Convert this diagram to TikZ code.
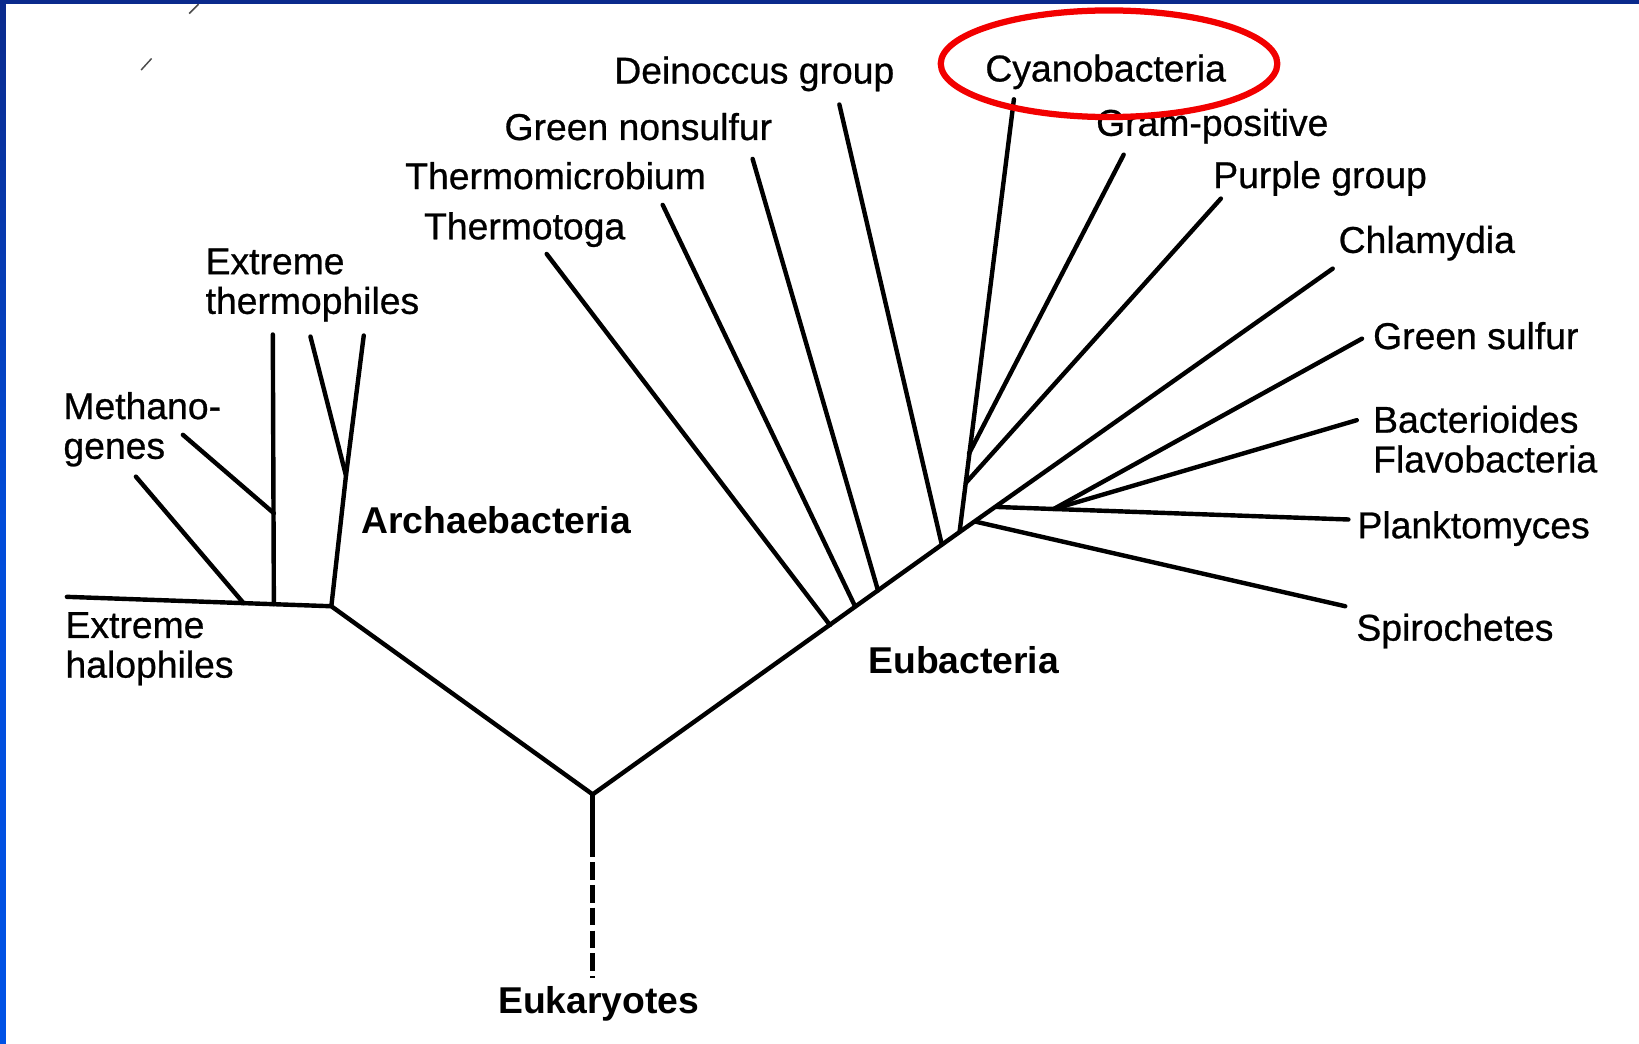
\documentclass[tikz,border=0pt]{standalone}
\usepackage{fontspec}
\setmainfont{Liberation Sans}
\newfontfamily\scanfont{Liberation Sans}[FakeBold=0.7]
\definecolor{SlideNavy}{HTML}{0A2A8C}
\definecolor{SlideBlue}{HTML}{0052E6}
\definecolor{MarkRed}{HTML}{F20000}

\begin{document}
\begin{tikzpicture}[x=0.01cm,y=-0.01cm,
  leaf/.style={anchor=west,inner sep=0pt,text depth=0pt,align=left,font=\fontsize{10.15}{10.8}\selectfont\scanfont},
  domainlabel/.style={leaf,font=\fontsize{10.15}{10.8}\selectfont\bfseries},
  branch/.style={line width=1.2pt,line cap=round,line join=round}]
% slide frame
\fill[white] (0,0) rectangle (1568,998);
\useasboundingbox (0,0) rectangle (1568,998);
\shade[top color=SlideNavy,bottom color=SlideBlue,middle color=SlideBlue!85!SlideNavy] (0,0) rectangle (5.7,998);
\fill[SlideNavy] (0,0) rectangle (1568,3.8);
\draw[black!70,line width=.4pt] (181,13)--(190,4);
\draw[black!70,line width=.4pt] (135,67)--(145,56);
% junctions
\coordinate (root) at (567,760);
\coordinate (kink) at (567,803);
\coordinate (arch) at (317,580);
\coordinate (halo) at (233,577);
\coordinate (vroot) at (262,578);
\coordinate (vmeth) at (262,491);
\coordinate (vtherm) at (331,455);
\coordinate (jToga) at (794,598);
\coordinate (jMicro) at (818,580);
\coordinate (jNonsulf) at (840,565);
\coordinate (jDeino) at (901,521);
\coordinate (eub) at (918,509);
\coordinate (jPurple) at (924,462);
\coordinate (jGram) at (927,434);
\coordinate (jSpiro) at (933,499);
\coordinate (jPlank) at (953,485);
\coordinate (jSulf) at (1008,487);
% branch tips
\coordinate (tHalo) at (64,571);
\coordinate (tMeth1) at (130,456);
\coordinate (tMeth2) at (175,416);
\coordinate (tTherm1) at (261,320);
\coordinate (tTherm2) at (297,322);
\coordinate (tTherm3) at (348,321);
\coordinate (tToga) at (523,243);
\coordinate (tMicro) at (634,196);
\coordinate (tNonsulf) at (720,152);
\coordinate (tDeino) at (803,100);
\coordinate (tCyano) at (970,95);
\coordinate (tGram) at (1075,148);
\coordinate (tPurple) at (1168,190);
\coordinate (tChlam) at (1275,257);
\coordinate (tSulf) at (1303,324);
\coordinate (tBact) at (1298,402);
\coordinate (tPlank) at (1290,497);
\coordinate (tSpiro) at (1287,580);
\coordinate (tEuk) at (567,936);
% archaebacteria
\draw[branch] (tHalo)--(arch)--(root)--(eub)--(tChlam);
\draw[branch] (halo)--(tMeth1);
\draw[branch] (vroot)--(tTherm1);
\draw[branch] (vmeth)--(tMeth2);
\draw[branch] (arch)--(vtherm)--(tTherm3);
\draw[branch] (vtherm)--(tTherm2);
% eubacteria
\draw[branch] (jToga)--(tToga);
\draw[branch] (jMicro)--(tMicro);
\draw[branch] (jNonsulf)--(tNonsulf);
\draw[branch] (jDeino)--(tDeino);
\draw[branch] (eub)--(tCyano);
\draw[branch] (jGram)--(tGram);
\draw[branch] (jPurple)--(tPurple);
\draw[branch] (jPlank)--(tPlank);
\draw[branch] (jSulf)--(tSulf);
\draw[branch] (jSulf)--(tBact);
\draw[branch] (jSpiro)--(tSpiro);
% eukaryotes
\draw[branch] (root)--(kink);
\draw[branch,line cap=butt,dash pattern=on 4.8pt off 1.4pt] (kink)--(tEuk);
% labels
\node[leaf] (halophiles) at (62,617) {Extreme\\halophiles};
\node[leaf] (methanogenes) at (60,407) {Methano-\\genes};
\node[leaf] (thermophiles) at (196,269) {Extreme\\thermophiles};
\node[domainlabel] (archaea) at (345,497) {Archaebacteria};
\node[leaf] (thermotoga) at (405,216) {Thermotoga};
\node[leaf] (thermomicro) at (387,168) {Thermomicrobium};
\node[leaf] (nonsulfur) at (482,121) {Green nonsulfur};
\node[leaf] (deinoccus) at (587,67) {Deinoccus group};
\node[leaf] (cyano) at (942,65) {Cyanobacteria};
\node[leaf] (gram) at (1048,117) {Gram-positive};
\node[leaf] (purple) at (1160,167) {Purple group};
\node[leaf] (chlamydia) at (1280,229) {Chlamydia};
\node[leaf] (greensulfur) at (1313,321) {Green sulfur};
\node[leaf] (bacterioides) at (1313,420) {Bacterioides\\Flavobacteria};
\node[leaf] (plankto) at (1298,502) {Planktomyces};
\node[leaf] (spiro) at (1297,600) {Spirochetes};
\node[domainlabel] (eubacteria) at (830,631) {Eubacteria};
\node[domainlabel] (eukaryotes) at (476,957) {Eukaryotes};
% highlight
\draw[MarkRed,line width=1.7pt] (1061,61) ellipse [x radius=161,y radius=51];
\end{tikzpicture}
\end{document}
